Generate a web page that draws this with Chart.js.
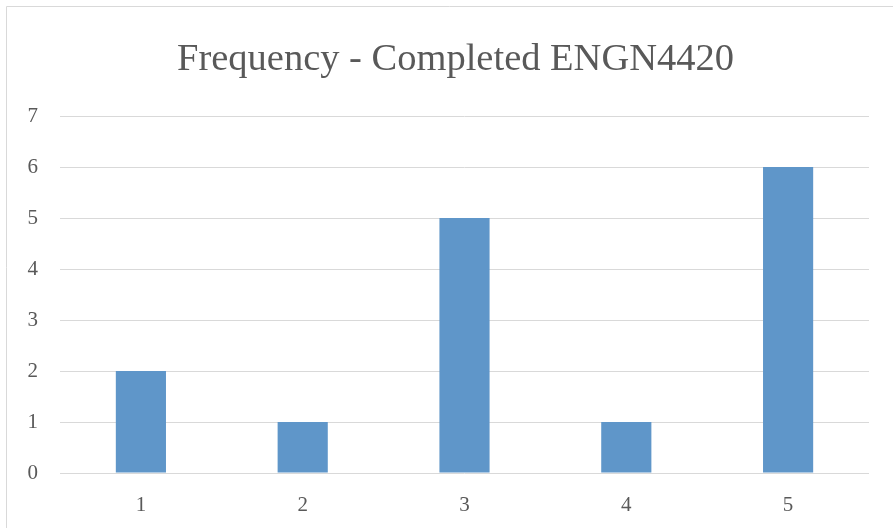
<!DOCTYPE html>
<html>
<head>
<meta charset="utf-8">
<script src="https://cdn.jsdelivr.net/npm/chart.js@4/dist/chart.umd.min.js"></script>
<style>
  html, body { margin: 0; padding: 0; background: #fff; }
  #wrap { width: 893px; height: 528px; position: relative; }
</style>
</head>
<body>
<div id="wrap"><canvas id="freqCanvas" width="893" height="528"></canvas></div>
<script>
// values
const categories = ['1', '2', '3', '4', '5'];
const frequency = [2, 1, 5, 1, 6];
const yTicks = [0, 1, 2, 3, 4, 5, 6, 7];

const textColor = '#595959';
const gridColor = '#d9d9d9';
const fontFamily = "'Liberation Serif', 'DejaVu Serif', serif";

// chart frame like the spreadsheet chart border (it runs off the right/bottom edge)
const framePlugin = {
    id: 'frame',
    afterLayout(chart) {
        // original title is centred a bit right of the plot, nudge its box
        if (chart.titleBlock) chart.titleBlock.left = 42;
    },
    beforeDraw(chart) {
        const ctx = chart.ctx;
        ctx.save();
        ctx.strokeStyle = gridColor;
        ctx.lineWidth = 1;
        ctx.beginPath();
        ctx.moveTo(6.5, chart.height);
        ctx.lineTo(6.5, 6.5);
        ctx.lineTo(chart.width, 6.5);
        ctx.stroke();
        ctx.restore();
    }
};

let ctx = document.getElementById('freqCanvas').getContext('2d');
let freqChart = new Chart(ctx, {
    type: 'bar',
    data: {
        labels: categories,
        datasets: [{
            label: 'Frequency',
            data: frequency,
            backgroundColor: '#5f96c9',
            borderWidth: 0,
            categoryPercentage: 1,
            barPercentage: 0.31
        }]
    },
    options: {
        responsive: false,
        animation: false,
        layout: {
            padding: { top: 6, right: 24, bottom: 13, left: 0 }
        },
        plugins: {
            legend: { display: false },
            tooltip: { enabled: false },
            title: {
                display: true,
                text: 'Frequency - Completed ENGN4420',
                color: textColor,
                font: { family: fontFamily, size: 38.5, weight: 'normal', lineHeight: 1.2 },
                padding: { top: 31, bottom: 32.8 }
            }
        },
        scales: {
            x: {
                afterFit(scale) { scale.height = 42; },
                grid: { display: false, drawTicks: false },
                border: { display: false },
                ticks: {
                    color: textColor,
                    padding: 20,
                    font: { family: fontFamily, size: 21 }
                }
            },
            y: {
                min: 0,
                max: 7,
                afterFit(scale) { scale.width = 60; },
                afterBuildTicks(scale) { scale.ticks = yTicks.map(v => ({ value: v })); },
                grid: { color: gridColor, lineWidth: 1, drawTicks: false },
                border: { display: false },
                ticks: {
                    color: textColor,
                    padding: 22,
                    font: { family: fontFamily, size: 21 }
                }
            }
        }
    },
    plugins: [framePlugin]
});
</script>
</body>
</html>
